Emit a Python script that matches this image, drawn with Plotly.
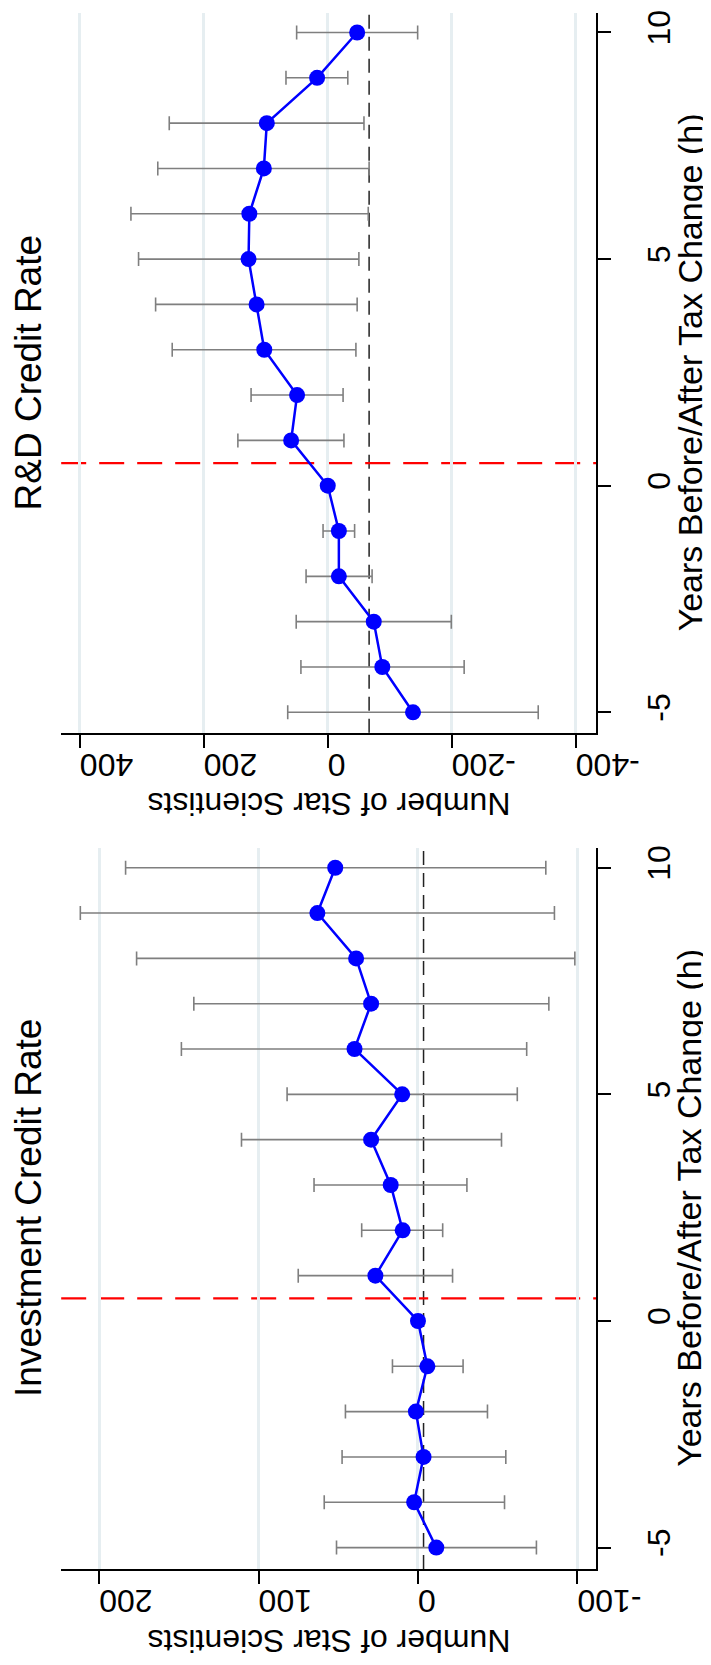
import plotly.graph_objects as go

# ---------------- data ----------------
years = [-5, -4, -3, -2, -1, 0, 1, 2, 3, 4, 5, 6, 7, 8, 9, 10]

# R&D Credit Rate panel
rd_coef = [-137.5, -88.0, -74.2, -17.9, -17.9, 0.0, 59.1, 49.5, 102.4, 114.8, 127.8, 126.5, 103.1, 98.3, 17.2, -47.4]
rd_lo   = [-339.5, -220.0, -199.3, -71.5, -43.3, 0.0, -26.1, -24.7, -45.4, -47.4, -50.2, -65.3, -66.7, -58.4, -32.3, -145.0]
rd_hi   = [64.6, 43.3, 50.9, 35.0, 7.6, 0.0, 145.0, 123.7, 250.9, 277.7, 305.2, 317.5, 274.2, 255.7, 67.4, 50.2]
rd_ref = -66.7

# Investment Credit Rate panel
inv_coef = [-11.5, 2.4, -3.5, 1.3, -5.9, 0.0, 26.7, 9.6, 17.1, 29.4, 9.9, 39.8, 29.4, 38.8, 63.1, 51.9]
inv_lo   = [-74.3, -54.3, -55.1, -43.6, -28.3, 0.0, -21.7, -15.5, -30.7, -52.4, -62.3, -68.2, -82.1, -98.4, -85.6, -80.2]
inv_hi   = [51.1, 58.8, 47.6, 45.5, 16.0, 0.0, 75.1, 35.3, 65.2, 110.7, 82.1, 148.4, 140.6, 176.5, 211.8, 183.4]
inv_ref = -3.5

event_line = 0.5

rd_ticks = [400, 200, 0, -200, -400]
inv_ticks = [200, 100, 0, -100]
year_ticks = [-5, 0, 5, 10]

titles = ["R&D Credit Rate", "Investment Credit Rate"]
value_title = "Number of Star Scientists"
year_title = "Years Before/After Tax Change (h)"

# ---------------- layout geometry ----------------
W, H = 711, 1665
FONT = "Liberation Sans, Arial, Helvetica, sans-serif"
xl, xr = 56.7 / W, 627.0 / W
panels = [
    dict(top=2.0, bot=723.0, xr=[430, -433], yr=[-5.45, 10.43]),
    dict(top=838.3, bot=1560.7, xr=[223.8, -111.8], yr=[-5.47, 10.44]),
]

fig = go.Figure()

series = [(rd_coef, rd_lo, rd_hi, rd_ref, rd_ticks), (inv_coef, inv_lo, inv_hi, inv_ref, inv_ticks)]

for i, (coef, lo, hi, ref, ticks) in enumerate(series):
    xa = "x" if i == 0 else "x2"
    ya = "y" if i == 0 else "y2"
    fig.add_trace(go.Scatter(
        x=coef, y=years, xaxis=xa, yaxis=ya, mode="lines+markers",
        line=dict(color="#0000ff", width=2.5),
        marker=dict(color="#0000ff", size=16),
        error_x=dict(type="data", symmetric=False,
                     array=[h - c for h, c in zip(hi, coef)],
                     arrayminus=[c - l for c, l in zip(coef, lo)],
                     color="#7f7f7f", thickness=1.6, width=7),
        showlegend=False, hoverinfo="skip",
    ))
    p = panels[i]
    ydom = [1 - p["bot"] / H, 1 - p["top"] / H]
    xkey = "xaxis" if i == 0 else "xaxis2"
    ykey = "yaxis" if i == 0 else "yaxis2"
    fig.update_layout(**{
        xkey: dict(domain=[xl, xr], range=p["xr"], anchor=ya,
                   tickvals=ticks, ticktext=[str(t) for t in ticks],
                   tickangle=180, ticks="outside", ticklen=13, tickwidth=1.5,
                   tickcolor="black", showline=True, linecolor="black", linewidth=1.8,
                   showgrid=True, gridcolor="#e6eef1", gridwidth=2.5, zeroline=False,
                   tickfont=dict(size=32, color="black", family=FONT)),
        ykey: dict(domain=ydom, range=p["yr"], anchor=xa, side="right",
                   tickvals=year_ticks, ticktext=[str(t) for t in year_ticks],
                   tickangle=-90, ticks="outside", ticklen=13, tickwidth=1.5,
                   tickcolor="black", showline=True, linecolor="black", linewidth=1.8,
                   showgrid=False, zeroline=False, ticklabelstandoff=20,
                   tickfont=dict(size=32, color="black", family=FONT)),
    })
    # reference (black dashed) and event (red dashed) lines
    fig.add_shape(type="line", xref=xa, yref=f"{ya} domain", x0=ref, x1=ref, y0=0, y1=1,
                  line=dict(color="#222222", width=1.5, dash="14px,8px"), layer="below")
    fig.add_shape(type="line", xref=f"{xa} domain", yref=ya, x0=0, x1=1, y0=event_line, y1=event_line,
                  line=dict(color="#ff0000", width=2.2, dash="25px,13px"), layer="below")
    # titles
    yc = 1 - (p["top"] + p["bot"]) / 2 / H
    fig.add_annotation(text=titles[i], xref="paper", yref="paper", x=22 / W, y=yc,
                       textangle=-90, showarrow=False, xanchor="center", yanchor="middle",
                       font=dict(size=37, color="black", family=FONT))
    fig.add_annotation(text=year_title, xref="paper", yref="paper", x=694.5 / W, y=yc,
                       xshift=30, textangle=-90, showarrow=False, xanchor="center", yanchor="middle",
                       font=dict(size=34, color="black", family=FONT))
    fig.add_annotation(text=value_title, xref="paper", yref="paper", x=(56.7 + 627) / 2 / W,
                       y=1 - (p["bot"] + 72) / H,
                       textangle=180, showarrow=False, xanchor="center", yanchor="middle",
                       font=dict(size=32, color="black", family=FONT))

fig.update_layout(width=W, height=H, margin=dict(l=0, r=0, t=0, b=0),
                  paper_bgcolor="white", plot_bgcolor="white",
                  font=dict(family=FONT, color="black"))

fig.write_html("out.html")
